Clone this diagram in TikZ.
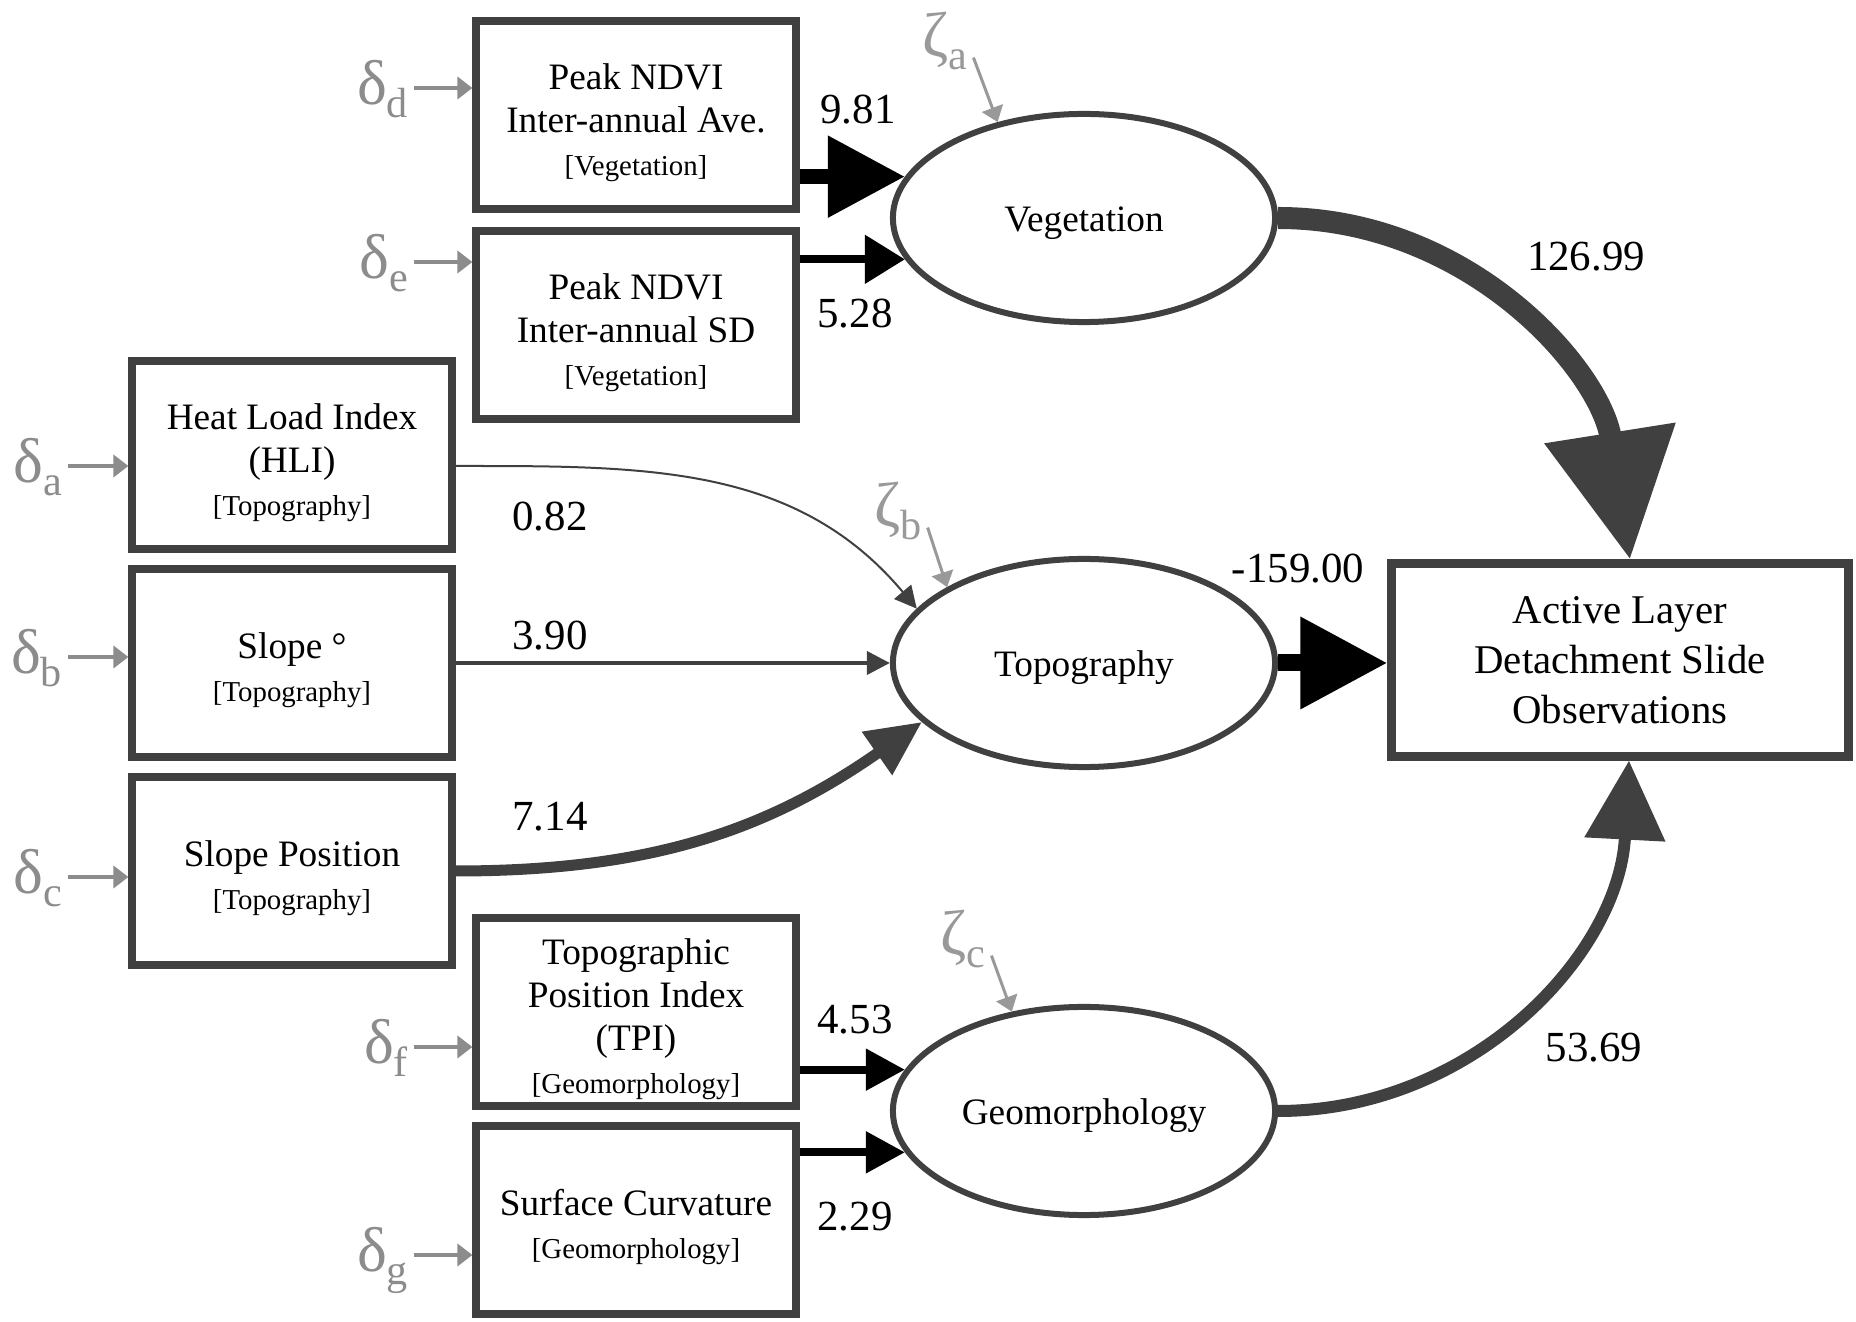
\documentclass[tikz,border=0pt]{standalone}
\usepackage{fontspec}
\setmainfont{Liberation Serif}
\usepackage{tikz}
\usetikzlibrary{arrows.meta}
\usetikzlibrary{shapes.geometric}
\definecolor{boxgray}{HTML}{404040}
\definecolor{errgray}{HTML}{8C8C8C}
\definecolor{zetagray}{HTML}{999999}
\newcommand{\sub}[1]{\raisebox{-3.5pt}{\fontsize{12}{12}\selectfont #1}}
\newcommand{\cat}[1]{{\fontsize{8.2}{10}\selectfont [#1]}}
\newcommand{\topstrut}{\rule{0pt}{11.5pt}}
\tikzset{
  manifest/.style={draw=boxgray, line width=0.08cm, minimum width=3.19cm, minimum height=1.88cm,
    align=center, inner sep=0pt, font=\fontsize{10.6}{12.2}\selectfont},
  latent/.style={ellipse, draw=boxgray, line width=0.06cm, minimum width=3.82cm, minimum height=2.08cm,
    inner sep=0pt, font=\fontsize{10.6}{12.2}\selectfont, execute at begin node=\rule{0pt}{10pt}},
  err/.style={text=errgray, inner ysep=0pt, inner xsep=1.5pt, text height=9.6pt, text depth=0pt,
    font=\fontsize{18}{18}\selectfont},
  errarr/.style={draw=errgray, line width=0.04cm, -{Triangle[length=0.15cm, width=0.22cm]}},
  coef/.style={inner sep=0pt, font=\fontsize{12.2}{14}\selectfont},
}

\begin{document}
\begin{tikzpicture}[x=0.01cm, y=0.01cm]
\useasboundingbox (0,0) rectangle (1856,-1322);

% observed variables
\node[manifest] (ave) at (636,-115) {\topstrut Peak NDVI\\Inter-annual Ave.\\\cat{Vegetation}};
\node[manifest] (sd) at (636,-325) {\topstrut Peak NDVI\\Inter-annual SD\\\cat{Vegetation}};
\node[manifest] (hli) at (292,-455) {\topstrut Heat Load Index\\(HLI)\\\cat{Topography}};
\node[manifest] (slope) at (292,-663) {\topstrut Slope °\\\cat{Topography}};
\node[manifest] (slopepos) at (292,-871) {\topstrut Slope Position\\\cat{Topography}};
\node[manifest] (tpi) at (636,-1012) {\topstrut Topographic\\Position Index\\(TPI)\\\cat{Geomorphology}};
\node[manifest] (curv) at (636,-1220) {\topstrut Surface Curvature\\\cat{Geomorphology}};

% latent variables
\node[latent] (veg) at (1084,-218) {Vegetation};
\node[latent] (topo) at (1084,-663) {Topography};
\node[latent] (geo) at (1084,-1111) {Geomorphology};

\node[manifest, minimum width=4.56cm, minimum height=1.92cm, line width=0.09cm,
  font=\fontsize{11.6}{14.2}\selectfont] (alds) at (1620,-660)
  {Active Layer\\Detachment Slide\\Observations};

% measurement errors
\foreach \n/\b/\x/\y in {a/hli/68/466, b/slope/68/657, c/slopepos/68/877,
    d/ave/414/88, e/sd/414/262, f/tpi/414/1047, g/curv/414/1255} {
  \node[err, anchor=east] (d\n) at (\x,-\y) {δ\sub{\n}};
  \draw[errarr] (d\n.east) -- (d\n.east -| \b.west);
}

% disturbances
\node[err, text=zetagray] (za) at (945,-40) {ζ\sub{a}};
\node[err, text=zetagray] (zb) at (898,-510) {ζ\sub{b}};
\node[err, text=zetagray] (zc) at (963,-938) {ζ\sub{c}};
\draw[errarr, draw=zetagray, line width=0.03cm] (za.south east) -- (veg.132);
\draw[errarr, draw=zetagray, line width=0.03cm] (zb.south east) -- (topo.151);
\draw[errarr, draw=zetagray, line width=0.03cm] (zc.south east) -- (geo.126);

% paths
\draw[line width=0.15cm, -{Triangle[length=0.77cm, width=0.78cm]}] (ave.east |- veg.167) -- (veg.167);
\draw[line width=0.08cm, -{Triangle[length=0.40cm, width=0.47cm]}] (sd.east |- veg.193) -- (veg.193);
\draw[boxgray, line width=0.02cm, -{Triangle[length=0.22cm, width=0.22cm]}]
  ([yshift=-0.11cm]hli.east) to[out=0, in=130] (topo.162);
\draw[boxgray, line width=0.04cm, -{Triangle[length=0.23cm, width=0.23cm]}] (slope.east) -- (topo.west);
\draw[boxgray, line width=0.11cm, -{Triangle[length=0.55cm, width=0.5cm]}]
  (slopepos.east) to[out=0, in=215] (topo.200);
\draw[line width=0.08cm, -{Triangle[length=0.39cm, width=0.40cm]}] (tpi.east |- geo.167) -- (geo.167);
\draw[line width=0.08cm, -{Triangle[length=0.39cm, width=0.40cm]}] (curv.east |- geo.193) -- (geo.193);

\draw[boxgray, line width=0.22cm, -{Triangle[length=1.28cm, width=1.27cm]}]
  (veg.east) to[out=0, in=99] ([xshift=0.1cm]alds.north);
\draw[line width=0.17cm, -{Triangle[length=0.87cm, width=0.88cm]}] (topo.east) -- (topo.east -| alds.west);
\draw[boxgray, line width=0.12cm, -{Triangle[length=0.79cm, width=0.78cm]}]
  (geo.east) to[out=0, in=-93] ([xshift=0.09cm]alds.south);

% coefficients
\node[coef] (c981) at (858,-110) {9.81};
\node[coef] (c528) at (855,-314) {5.28};
\node[coef] (c082) at (550,-517) {0.82};
\node[coef] (c390) at (550,-636) {3.90};
\node[coef] (c714) at (550,-817) {7.14};
\node[coef] (c453) at (855,-1020) {4.53};
\node[coef] (c229) at (855,-1217) {2.29};
\node[coef] (c12699) at (1586,-257) {126.99};
\node[coef] (c15900) at (1298,-569) {-159.00};
\node[coef] (c5369) at (1594,-1048) {53.69};
\end{tikzpicture}
\end{document}
